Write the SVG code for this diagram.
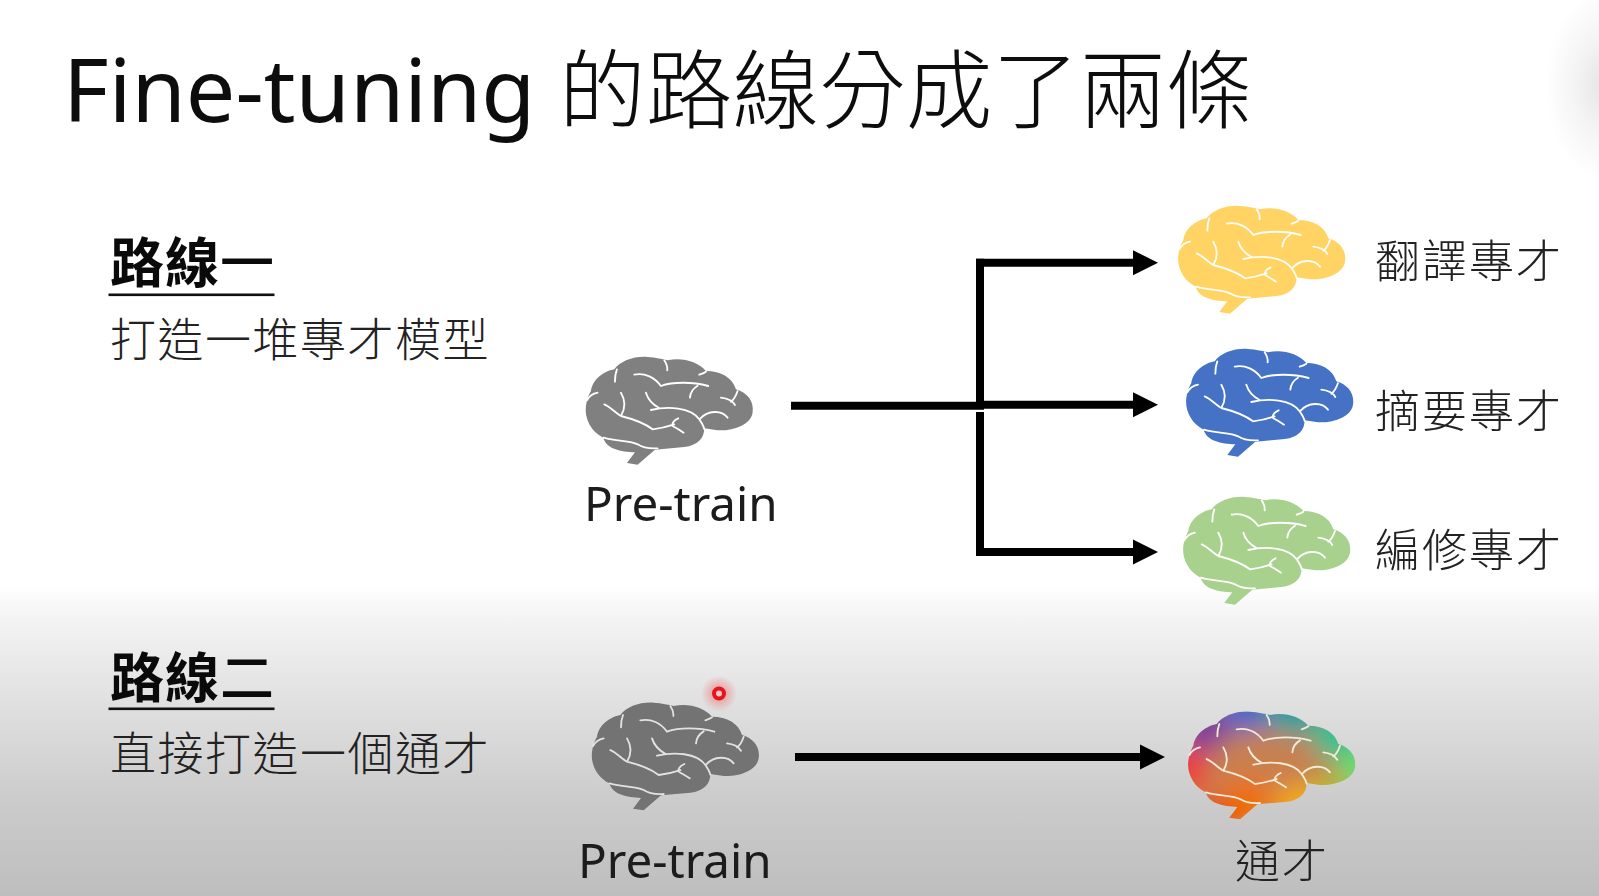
<svg xmlns="http://www.w3.org/2000/svg" width="1599" height="896" viewBox="0 0 1599 896">
<style>
text{font-family:"Noto Sans","Noto Sans CJK TC",sans-serif;fill:#1a1a1a}
.cjk{font-family:"Noto Sans CJK TC","Noto Sans",sans-serif}
.title{font-size:88px;fill:#0d0d0d}
.titlec{font-size:86.7px;font-weight:300}
.head{font-size:54px;font-weight:700;fill:#0a0a0a;letter-spacing:1px}
.thin{font-weight:500}
.sub{font-size:46px;font-weight:300;letter-spacing:1.5px;fill:#222}
.lab{font-size:45px;font-weight:300;letter-spacing:2px;fill:#222}
.en{font-size:47.5px}
.conn{fill:none;stroke:#000;stroke-width:8}
.crease{fill:none;stroke-width:5.5;stroke-linecap:round;stroke-linejoin:round}
.ul{fill:#111}
</style>
<defs>
<linearGradient id="bg" x1="0" y1="0" x2="0" y2="1">
<stop offset="0" stop-color="#fff"/><stop offset="0.1" stop-color="#f4f4f4"/><stop offset="0.35" stop-color="#e2e2e2"/><stop offset="0.7" stop-color="#cbcbcb"/><stop offset="1" stop-color="#bebebe"/>
</linearGradient>
<radialGradient id="corner"><stop offset="0" stop-color="#e4e4e4"/><stop offset="0.5" stop-color="#f4f4f4"/><stop offset="1" stop-color="#fff"/></radialGradient>
<radialGradient id="glow"><stop offset="0.3" stop-color="#f04a4a" stop-opacity="0.4"/><stop offset="1" stop-color="#f04a4a" stop-opacity="0"/></radialGradient>
<filter id="soft" x="-5%" y="-5%" width="110%" height="110%"><feGaussianBlur stdDeviation="0.45"/></filter>
<filter id="mix" x="-30%" y="-30%" width="160%" height="160%"><feGaussianBlur stdDeviation="36"/></filter>
<marker id="head" markerUnits="userSpaceOnUse" markerWidth="26" markerHeight="26" refX="0" refY="13" orient="auto"><path d="M0 0.5L25 13L0 25.5Z" fill="#000"/></marker>
<path id="shape" d="M208 366L232 334C190 332 146 324 137 290C100 272 80 232 85 195C88 175 92 165 100 150C105 115 140 90 170 85C188 60 230 45 270 48C295 50 315 54 330 58C370 48 420 60 445 90C490 90 525 110 535 145C570 155 590 182 585 215C580 250 530 270 480 268L440 262C440 292 420 314 380 318L292 326L240 371Z"/>
<path id="lines" d="M178 85C172 100 172 110 172 122M320 58C328 70 330 78 329 88M445 92C438 97 432 99 425 101M230 101C262 94 292 110 310 135C345 122 405 122 452 135M420 134C405 143 398 155 397 170M540 150C535 165 530 175 520 182M490 170C510 172 525 180 532 192M120 155C105 158 95 165 88 178M190 155C205 180 202 205 190 225M140 190C160 198 175 218 190 225C230 235 262 247 285 265C310 262 335 255 350 250M362 232C348 238 342 248 345 255C358 262 368 268 378 275M265 155C272 178 288 192 305 201M280 207C330 195 400 198 425 235C434 248 438 256 440 264M428 233C450 208 492 206 510 230M138 290C180 302 218 298 240 310C262 325 290 322 300 322"/>
<clipPath id="brainclip"><use href="#shape"/></clipPath>
</defs>
<g id="background">
<rect width="1599" height="896" fill="#fff"/>
<rect y="585" width="1599" height="311" fill="url(#bg)"/>
<ellipse cx="1605" cy="85" rx="60" ry="95" fill="url(#corner)"/>
</g>
<g id="title"><text class="title" x="63" y="122">Fine-tuning</text><text class="title cjk titlec" x="559" y="122">的路線分成了兩條</text></g>
<g id="route1-text">
<text class="head cjk" x="110" y="283">路線<tspan class="thin">一</tspan></text><rect class="ul" x="108.5" y="293.5" width="166" height="2.6"/>
<text class="sub cjk" x="110" y="356">打造一堆專才模型</text>
</g>
<g id="route2-text">
<text class="head cjk" x="110" y="698">路線<tspan class="thin">二</tspan></text><rect class="ul" x="108.5" y="707.5" width="166" height="2.6"/>
<text class="sub cjk" x="110" y="770">直接打造一個通才</text>
</g>
<g id="connectors">
<path class="conn" d="M791 405.7H984"/>
<path class="conn" d="M980 258.7V401M980 412V556"/>
<path class="conn" d="M976 262.7H1133" marker-end="url(#head)"/>
<path class="conn" d="M976 404.7H1133" marker-end="url(#head)"/>
<path class="conn" d="M976 552H1133" marker-end="url(#head)"/>
<path class="conn" d="M795 757H1140" marker-end="url(#head)"/>
</g>
<g id="pretrain-1" filter="url(#soft)">
<g transform="translate(557.6 341) scale(.3333)"><use href="#shape" fill="#808080"/><use href="#lines" class="crease" stroke="#fff"/></g>
<text class="en" x="584" y="521">Pre-train</text>
</g>
<g id="expert-translate" filter="url(#soft)">
<g transform="translate(1150 190) scale(.3333)"><use href="#shape" fill="#ffd465"/><use href="#lines" class="crease" stroke="#fffdf5"/></g>
<text class="lab cjk" x="1375" y="278">翻譯專才</text>
</g>
<g id="expert-summary" filter="url(#soft)">
<g transform="translate(1158 333) scale(.3333)"><use href="#shape" fill="#4472c4"/><use href="#lines" class="crease" stroke="#fff"/></g>
<text class="lab cjk" x="1375" y="428">摘要專才</text>
</g>
<g id="expert-edit" filter="url(#soft)">
<g transform="translate(1155 481) scale(.3333)"><use href="#shape" fill="#a9d18e"/><use href="#lines" class="crease" stroke="#fff"/></g>
<text class="lab cjk" x="1375" y="567">編修專才</text>
</g>
<g id="pretrain-2" filter="url(#soft)">
<g transform="translate(563.7 686.7) scale(.3333)"><use href="#shape" fill="#737373"/><use href="#lines" class="crease" stroke="#e2e2e2"/></g>
<text class="en" x="578" y="878">Pre-train</text>
</g>
<g id="generalist" filter="url(#soft)">
<g transform="translate(1160 695.7) scale(.3333)">
<g clip-path="url(#brainclip)">
<g filter="url(#mix)">
<rect x="40" y="10" width="590" height="400" fill="#c8804f"/>
<circle cx="70" cy="220" r="75" fill="#f03a3a"/>
<circle cx="130" cy="90" r="80" fill="#80409a"/>
<circle cx="260" cy="30" r="80" fill="#4a68c8"/>
<circle cx="400" cy="40" r="80" fill="#10a0a0"/>
<circle cx="530" cy="120" r="75" fill="#28c090"/>
<circle cx="610" cy="220" r="70" fill="#60e070"/>
<circle cx="500" cy="290" r="50" fill="#b8c020"/>
<circle cx="410" cy="330" r="65" fill="#f8a800"/>
<circle cx="260" cy="320" r="75" fill="#f07000"/>
<circle cx="170" cy="370" r="65" fill="#e85000"/>
</g></g>
<use href="#lines" class="crease" stroke="#f3ead8"/></g>
<text class="lab cjk" x="1235" y="878">通才</text>
</g>
<g id="pointer">
<circle cx="719" cy="693.5" r="18" fill="url(#glow)"/>
<circle cx="719" cy="693.5" r="5" fill="#fbc8c8" stroke="#e8141c" stroke-width="4"/>
</g>
</svg>
